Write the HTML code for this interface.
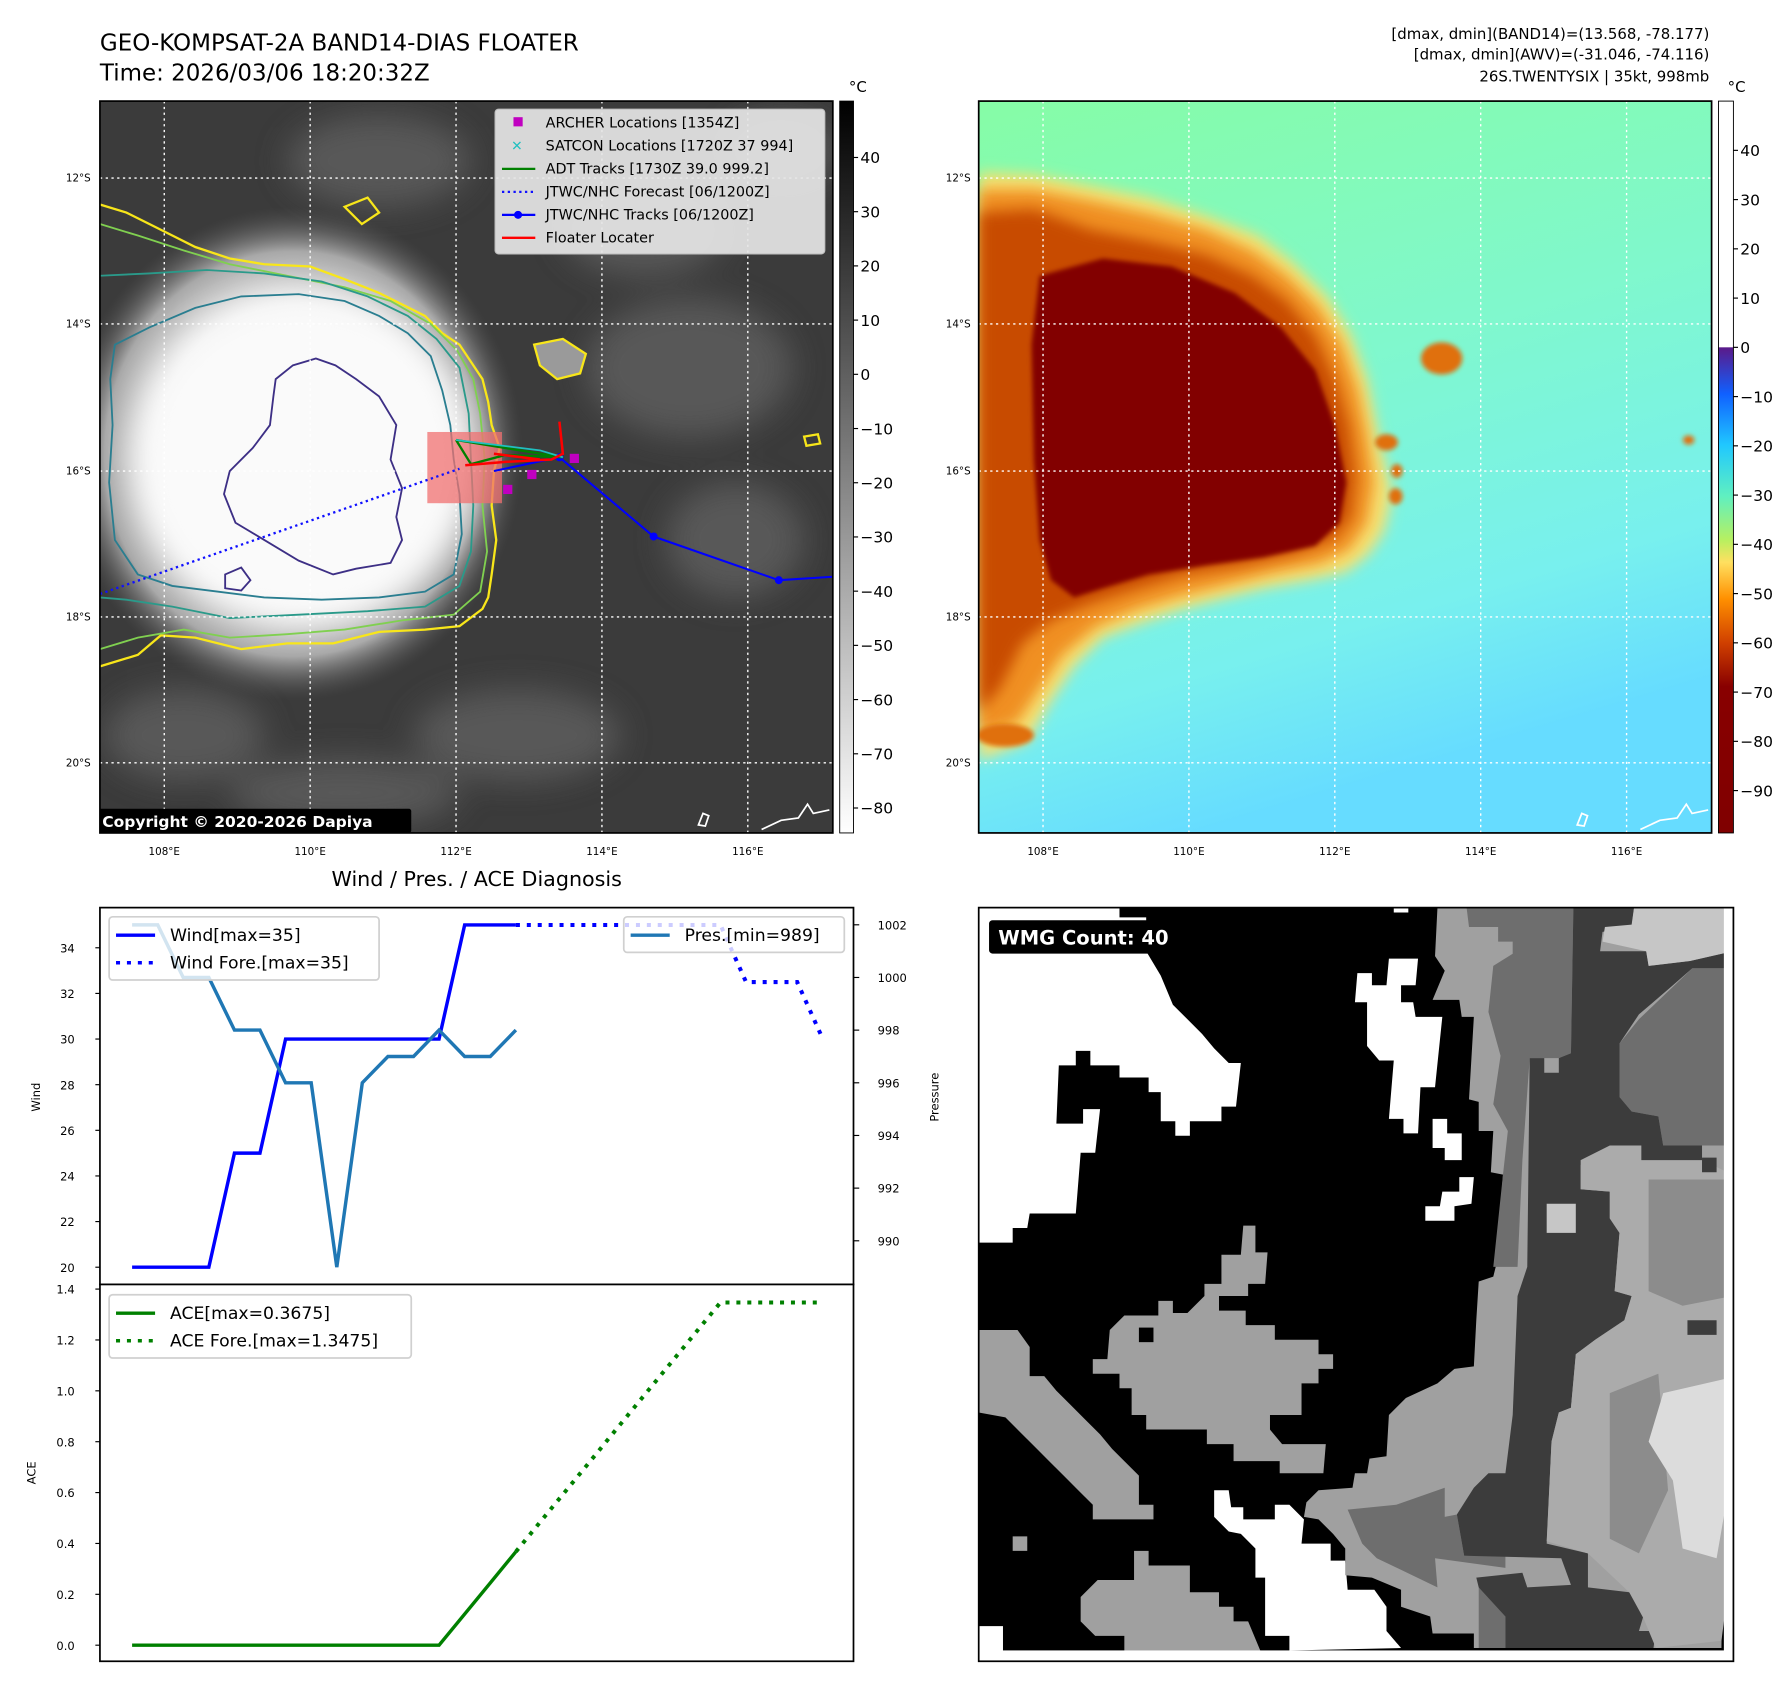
<!DOCTYPE html>
<html><head><meta charset="utf-8"><style>
html,body{margin:0;padding:0;background:#fff}
svg{display:block;font-family:"DejaVu Sans","Liberation Sans",sans-serif}
</style></head><body>
<svg id="root" width="1792" height="1690" viewBox="0 0 1560 1471" preserveAspectRatio="none">
<defs>
<filter id="b2"><feGaussianBlur stdDeviation="2"/></filter>
<filter id="b6"><feGaussianBlur stdDeviation="6"/></filter>
<filter id="b14"><feGaussianBlur stdDeviation="14"/></filter>
<clipPath id="cl"><rect x="87" y="88" width="638" height="637"/></clipPath>
<clipPath id="cr"><rect x="852" y="88" width="638" height="637"/></clipPath>
<radialGradient id="cloudg" cx="0.5" cy="0.5" r="0.5">
<stop offset="0" stop-color="#fff"/><stop offset="0.6" stop-color="#eeeeee"/><stop offset="0.82" stop-color="#a8a8a8"/><stop offset="1" stop-color="#555" stop-opacity="0"/></radialGradient>
<linearGradient id="bgR" x1="0" y1="0" x2="0.3" y2="1">
<stop offset="0" stop-color="#86fca6"/><stop offset="0.45" stop-color="#80f8cc"/><stop offset="0.8" stop-color="#78f0ee"/><stop offset="1" stop-color="#66dcff"/></linearGradient>
<linearGradient id="cbGray" x1="0" y1="0" x2="0" y2="1">
<stop offset="0" stop-color="#000"/><stop offset="1" stop-color="#fff"/></linearGradient>
<linearGradient id="cbJet" x1="0" y1="0" x2="0" y2="1">
<stop offset="0" stop-color="#fff"/><stop offset="0.336" stop-color="#fff"/>
<stop offset="0.337" stop-color="#5a1a8a"/><stop offset="0.40" stop-color="#1060ff"/>
<stop offset="0.47" stop-color="#20c8ff"/><stop offset="0.54" stop-color="#60f0c0"/>
<stop offset="0.60" stop-color="#b8f060"/><stop offset="0.63" stop-color="#ffe060"/>
<stop offset="0.68" stop-color="#ff9000"/><stop offset="0.74" stop-color="#d04000"/>
<stop offset="0.80" stop-color="#880000"/><stop offset="1" stop-color="#800000"/></linearGradient>
</defs>

<!-- Titles -->
<text x="87" y="44" font-size="20">GEO-KOMPSAT-2A BAND14-DIAS FLOATER</text>
<text x="87" y="70" font-size="20">Time: 2026/03/06 18:20:32Z</text>
<g font-size="13" text-anchor="end">
<text x="1488" y="34">[dmax, dmin](BAND14)=(13.568, -78.177)</text>
<text x="1488" y="52">[dmax, dmin](AWV)=(-31.046, -74.116)</text>
<text x="1488" y="71">26S.TWENTYSIX | 35kt, 998mb</text>
</g>

<!-- LEFT MAP -->
<g clip-path="url(#cl)">
<rect x="87" y="88" width="638" height="637" fill="#3b3b3b"/>
<g filter="url(#b14)" fill="#5c5c5c" opacity="0.9">
<ellipse cx="600" cy="320" rx="90" ry="60"/><ellipse cx="560" cy="200" rx="70" ry="40"/>
<ellipse cx="450" cy="640" rx="90" ry="40"/><ellipse cx="640" cy="470" rx="60" ry="50"/>
<ellipse cx="300" cy="690" rx="100" ry="30"/><ellipse cx="160" cy="640" rx="70" ry="40"/>
<ellipse cx="680" cy="130" rx="50" ry="30"/><ellipse cx="330" cy="140" rx="80" ry="40"/>
</g>
<ellipse cx="255" cy="395" rx="200" ry="215" fill="url(#cloudg)"/>
<ellipse cx="265" cy="400" rx="145" ry="140" fill="#fafafa" filter="url(#b14)"/>
<path d="M87,178 L110,185 130,195 150,205 170,215 200,225 230,230 270,232 300,243 330,255 350,265 370,275 385,290 400,300 410,315 420,330 425,350 428,370 435,390 430,410 428,440 432,470 428,500 425,520 420,530 400,545 370,548 330,550 290,560 250,560 210,565 170,555 140,553 120,570 87,580" fill="none" stroke="#f8e61a" stroke-width="2"/>
<path d="M87,195 L120,205 160,218 200,230 250,240 300,250 340,262 375,282 398,305 412,330 418,360 422,400 420,440 424,480 418,515 395,535 350,540 300,548 250,552 200,555 160,548 120,555 87,565" fill="none" stroke="#80d050" stroke-width="1.6"/>
<path d="M87,240 L130,238 180,235 230,238 280,245 320,258 355,275 380,295 400,320 408,360 410,400 412,440 410,480 400,510 370,528 320,532 260,535 200,538 150,528 110,522 87,520" fill="none" stroke="#2a9a8a" stroke-width="1.6"/>
<path d="M100,300 L130,285 170,268 210,258 260,256 300,262 330,275 355,290 375,310 385,340 392,370 395,400 400,430 402,465 395,500 370,515 330,520 280,522 230,520 190,515 150,510 120,500 100,470 95,420 98,370 96,330 Z" fill="none" stroke="#2a7e90" stroke-width="1.6"/>
<path d="M240,330 L255,318 275,312 292,318 310,330 330,345 345,370 340,400 350,425 345,450 350,470 340,490 310,495 290,500 260,488 230,470 205,455 195,430 200,410 220,390 235,370 238,345 Z" fill="none" stroke="#3d2f85" stroke-width="1.6"/>
<path d="M196,500 L210,494 218,505 210,514 196,512 Z" fill="none" stroke="#3d2f85" stroke-width="1.6"/>
<path d="M465,300 L490,295 510,308 505,325 485,330 470,318 Z" fill="#9a9a9a" stroke="#f8e61a" stroke-width="2"/>
<path d="M300,180 L320,172 330,185 315,195 Z M700,380 L712,378 714,386 702,388 Z" fill="none" stroke="#f8e61a" stroke-width="2"/>
<g stroke="#fff" stroke-width="1.2" stroke-dasharray="2,3" fill="none">
<line x1="143" y1="88" x2="143" y2="725"/><line x1="270" y1="88" x2="270" y2="725"/><line x1="397" y1="88" x2="397" y2="725"/><line x1="524" y1="88" x2="524" y2="725"/><line x1="651" y1="88" x2="651" y2="725"/>
<line x1="87" y1="155" x2="725" y2="155"/><line x1="87" y1="282" x2="725" y2="282"/><line x1="87" y1="410" x2="725" y2="410"/><line x1="87" y1="537" x2="725" y2="537"/><line x1="87" y1="664" x2="725" y2="664"/>
</g>
<path d="M608,718 L612,708 617,710 614,719 Z M663,722 L680,714 695,712 703,700 708,708 722,705" fill="none" stroke="#fff" stroke-width="1.5"/>
<rect x="372" y="376" width="65" height="62" fill="#f07070" opacity="0.75"/>
<path d="M87,517 L400,408" stroke="#1010ff" stroke-width="2" stroke-dasharray="2,3" fill="none"/>
<path d="M430,410 L487,398 L569,467 L678,505 L725,502" stroke="#0000ff" stroke-width="1.8" fill="none"/>
<g fill="#0000ff"><circle cx="487" cy="398" r="3.5"/><circle cx="569" cy="467" r="3.5"/><circle cx="678" cy="505" r="3.5"/></g>
<path d="M397,383 L490,398 L440,396 L410,404 L397,383" stroke="#008000" stroke-width="2" fill="none"/>
<path d="M397,383 L470,392 L490,398" stroke="#20c0c0" stroke-width="1.5" fill="none"/>
<path d="M405,405 L440,402 L480,400 L490,395 L487,367 M430,395 L470,400" stroke="#ff0000" stroke-width="2.2" fill="none"/>
<g fill="#c000c0"><rect x="438" y="422" width="8" height="8"/><rect x="459" y="409" width="8" height="8"/><rect x="496" y="395" width="8" height="8"/></g>
<rect x="85" y="704" width="273" height="21" fill="#000" rx="2"/>
<text x="89" y="720" font-size="13.5" font-weight="bold" fill="#fff">Copyright © 2020-2026 Dapiya</text>
</g>
<rect x="87" y="88" width="638" height="637" fill="none" stroke="#000" stroke-width="1.5"/>
<g>
<rect x="431" y="95" width="287" height="126" rx="3" fill="#e6e6e6" opacity="0.92" stroke="#ccc"/>
<rect x="447" y="102" width="8" height="8" fill="#c000c0"/>
<text x="445" y="131" font-size="12" fill="#20c0c0" font-weight="bold">✕</text>
<line x1="437" y1="147" x2="466" y2="147" stroke="#008000" stroke-width="2"/>
<line x1="437" y1="167" x2="466" y2="167" stroke="#1010ff" stroke-width="2" stroke-dasharray="2,3"/>
<line x1="437" y1="187" x2="466" y2="187" stroke="#0000ff" stroke-width="2"/><circle cx="451" cy="187" r="3.5" fill="#0000ff"/>
<line x1="437" y1="207" x2="466" y2="207" stroke="#ff0000" stroke-width="2"/>
<g font-size="12.5">
<text x="475" y="111">ARCHER Locations [1354Z]</text>
<text x="475" y="131">SATCON Locations [1720Z 37 994]</text>
<text x="475" y="151">ADT Tracks [1730Z 39.0 999.2]</text>
<text x="475" y="171">JTWC/NHC Forecast [06/1200Z]</text>
<text x="475" y="191">JTWC/NHC Tracks [06/1200Z]</text>
<text x="475" y="211">Floater Locater</text>
</g></g>
<g font-size="9">
<g text-anchor="end"><text x="79" y="158">12°S</text><text x="79" y="285">14°S</text><text x="79" y="413">16°S</text><text x="79" y="540">18°S</text><text x="79" y="667">20°S</text></g>
<g text-anchor="middle"><text x="143" y="744">108°E</text><text x="270" y="744">110°E</text><text x="397" y="744">112°E</text><text x="524" y="744">114°E</text><text x="651" y="744">116°E</text></g>
</g>
<g>
<rect x="731" y="88" width="12" height="637" fill="url(#cbGray)" stroke="#000" stroke-width="0.8"/>
<text x="739" y="80" font-size="13">°C</text>
<g font-size="13.5" id="cb1"></g>
</g>

<!-- RIGHT MAP -->
<g clip-path="url(#cr)">
<rect x="852" y="88" width="638" height="637" fill="url(#bgR)"/>
<path d="M852,150 L900,152 950,162 1000,172 1050,188 1095,205 1125,228 1155,258 1175,290 1190,330 1198,370 1205,400 1212,430 1205,462 1192,482 1172,498 1140,505 1100,512 1060,522 1030,530 1000,540 960,555 935,580 915,610 895,645 852,662 Z" fill="#f8e070" filter="url(#b6)"/>
<path d="M852,165 L900,165 950,175 1000,186 1050,200 1090,218 1120,240 1148,268 1168,300 1182,340 1190,380 1196,420 1190,455 1175,478 1150,490 1110,498 1070,508 1030,518 990,530 955,545 925,570 905,600 885,630 852,640 Z" fill="#f09020" filter="url(#b6)"/>
<path d="M852,185 L900,182 950,200 1000,210 1050,222 1090,240 1120,262 1145,292 1162,330 1174,370 1180,415 1176,450 1160,470 1125,482 1080,492 1030,500 990,512 950,525 915,540 890,560 870,600 852,620 Z" fill="#c84c00" filter="url(#b6)"/>
<path d="M905,240 L960,225 1020,232 1075,255 1115,285 1145,322 1162,370 1172,420 1166,455 1145,475 1100,485 1050,492 1000,500 960,512 935,520 915,505 905,470 900,400 898,300 Z" fill="#820000" filter="url(#b2)"/>
<g filter="url(#b2)" fill="#e07010">
<ellipse cx="1255" cy="312" rx="18" ry="14"/><ellipse cx="1207" cy="385" rx="10" ry="7"/><ellipse cx="1216" cy="410" rx="5" ry="6"/><ellipse cx="1215" cy="432" rx="6" ry="7"/><ellipse cx="1470" cy="383" rx="5" ry="4"/>
<ellipse cx="875" cy="640" rx="25" ry="10"/>
</g>
<g stroke="#fff" stroke-width="1.2" stroke-dasharray="2,3" fill="none">
<line x1="908" y1="88" x2="908" y2="725"/><line x1="1035" y1="88" x2="1035" y2="725"/><line x1="1162" y1="88" x2="1162" y2="725"/><line x1="1289" y1="88" x2="1289" y2="725"/><line x1="1416" y1="88" x2="1416" y2="725"/>
<line x1="852" y1="155" x2="1490" y2="155"/><line x1="852" y1="282" x2="1490" y2="282"/><line x1="852" y1="410" x2="1490" y2="410"/><line x1="852" y1="537" x2="1490" y2="537"/><line x1="852" y1="664" x2="1490" y2="664"/>
</g>
<path d="M1373,718 L1377,708 1382,710 1379,719 Z M1428,722 L1445,714 1460,712 1468,700 1473,708 1487,705" fill="none" stroke="#fff" stroke-width="1.5"/>
</g>
<rect x="852" y="88" width="638" height="637" fill="none" stroke="#000" stroke-width="1.5"/>
<g font-size="9">
<g text-anchor="end"><text x="845" y="158">12°S</text><text x="845" y="285">14°S</text><text x="845" y="413">16°S</text><text x="845" y="540">18°S</text><text x="845" y="667">20°S</text></g>
<g text-anchor="middle"><text x="908" y="744">108°E</text><text x="1035" y="744">110°E</text><text x="1162" y="744">112°E</text><text x="1289" y="744">114°E</text><text x="1416" y="744">116°E</text></g>
</g>
<g>
<rect x="1496" y="88" width="13" height="637" fill="url(#cbJet)" stroke="#000" stroke-width="0.8"/>
<text x="1504" y="80" font-size="13">°C</text>
<g font-size="13.5" id="cb2"></g>
</g>

<!-- DIAGNOSIS CHART -->
<text x="415" y="771" font-size="18" text-anchor="middle">Wind / Pres. / ACE Diagnosis</text>
<g id="chart"></g>

<!-- WMG PANEL -->
<g>
<rect x="852" y="790" width="657" height="656" fill="#fff"/>
<g transform="translate(852,790) scale(0.4226)">
<rect x="0" y="0" width="1553" height="1530" fill="#000"/>
<path fill="#fff" d="M0,0 L290,0 290,20 345,20 345,90 375,140 400,200 430,230 460,260 485,290 515,320 540,320 530,410 500,410 500,440 435,440 435,470 405,470 405,440 375,440 375,380 350,380 350,350 290,350 290,325 230,325 230,295 200,295 200,325 165,325 160,445 215,445 215,415 250,415 240,505 210,505 200,630 105,630 100,660 70,660 70,690 0,690 Z"/>
<path fill="#fff" d="M780,135 L810,135 810,160 840,160 845,105 905,105 900,160 870,160 870,195 895,195 900,225 955,225 940,370 910,370 905,465 875,465 875,435 845,435 855,315 825,315 800,285 800,195 775,195 Z M935,435 L965,435 965,465 995,465 995,520 960,520 960,495 935,495 Z M990,555 L1020,555 1015,610 980,615 980,645 920,645 920,615 950,615 955,585 990,585 Z M855,0 L885,0 885,10 855,10 Z"/>
<path fill="#fff" d="M485,1200 L515,1200 520,1235 545,1235 545,1260 610,1260 610,1230 640,1230 670,1260 665,1310 725,1310 725,1345 755,1345 760,1405 815,1405 840,1440 840,1490 870,1525 640,1530 640,1500 590,1500 590,1380 570,1380 570,1320 540,1290 515,1285 485,1255 Z M0,1480 L50,1480 50,1530 0,1530 Z"/>
<g fill="#a0a0a0">
<path d="M0,870 L80,870 105,905 105,965 135,965 160,995 190,1025 220,1055 250,1085 275,1115 300,1140 330,1170 330,1230 360,1230 360,1260 235,1260 235,1230 205,1200 175,1170 145,1140 115,1110 85,1080 55,1050 0,1040 Z"/>
<path d="M270,870 L300,840 370,840 370,810 400,810 400,835 430,835 465,800 465,775 500,775 500,715 540,715 545,655 570,655 570,710 595,710 590,775 555,775 555,800 495,800 495,830 550,830 550,860 610,860 610,890 700,890 700,920 730,920 730,950 700,950 700,980 665,980 665,1045 600,1045 600,1075 625,1105 715,1105 710,1165 620,1165 620,1140 525,1140 525,1105 470,1105 470,1075 345,1075 345,1045 315,1045 315,990 290,990 290,960 235,960 235,930 265,930 Z"/>
<path d="M210,1420 L245,1385 320,1385 320,1325 350,1325 350,1355 435,1355 435,1410 495,1410 495,1440 525,1440 525,1470 555,1470 580,1530 300,1535 300,1500 240,1500 210,1470 Z M70,1295 L100,1295 100,1325 70,1325 Z"/>
<path d="M945,0 L940,100 960,130 935,190 990,190 995,225 1020,225 1010,395 1030,400 1030,460 1060,460 1055,545 1080,550 1065,740 1060,760 1030,770 1025,850 1020,945 980,950 945,980 880,1010 845,1045 840,1130 805,1135 800,1165 775,1165 770,1195 700,1200 675,1225 670,1255 700,1260 730,1290 755,1320 755,1375 810,1380 870,1405 870,1440 930,1460 935,1495 1020,1495 1020,1525 1530,1525 1553,0 Z"/>
</g>
<rect x="330" y="865" width="30" height="30" fill="#000"/>
<path fill="#6e6e6e" d="M1005,0 L1225,0 1220,300 1195,310 1135,310 1120,520 1110,740 1060,740 1080,550 1090,460 1060,405 1075,305 1050,215 1060,120 1100,95 1100,70 1070,70 1070,40 1010,40 Z M760,1240 L860,1230 960,1195 960,1255 985,1250 1000,1335 1085,1335 1085,1360 940,1340 945,1400 820,1340 790,1310 Z M1360,230 L1470,125 1553,125 1553,490 1410,490 1400,430 1345,420 1320,390 1320,280 Z M1030,1400 L1085,1400 1085,1525 1030,1525 1030,1460 Z"/>
<path fill="#3c3c3c" d="M1225,0 L1350,0 1345,40 1285,50 1280,90 1375,90 1380,120 1465,110 1553,90 1553,125 1470,125 1430,160 1395,190 1360,220 1320,280 1320,390 1345,420 1400,430 1410,490 1490,490 1490,540 1300,520 1240,530 1240,580 1300,585 1300,640 1320,670 1310,790 1345,800 1330,850 1270,890 1230,920 1220,1030 1195,1040 1180,1100 1170,1310 1255,1330 1255,1400 1340,1410 1375,1440 1360,1490 1395,1490 1390,1525 1085,1525 1085,1460 1030,1400 1025,1380 1120,1370 1130,1400 1220,1395 1200,1340 1000,1335 985,1250 1020,1195 1050,1165 1085,1165 1100,1045 1110,800 1130,740 1135,310 1165,310 1165,340 1195,340 1195,310 1220,300 Z"/>
<path fill="#ababab" d="M1240,520 L1300,490 1365,490 1365,520 1490,520 1553,550 1553,1330 1530,1510 1395,1525 1370,1465 1340,1410 1255,1330 1170,1305 1180,1100 1195,1040 1220,1030 1230,920 1270,890 1330,850 1345,800 1310,790 1320,670 1300,640 1300,585 1240,580 Z"/>
<path fill="#8c8c8c" d="M1380,560 L1553,560 1553,800 1450,820 1380,790 Z M1300,1000 L1400,960 1420,1200 1360,1330 1300,1300 Z"/>
<path fill="#dcdcdc" d="M1410,1000 L1540,970 1553,1150 1520,1340 1450,1320 1430,1180 1380,1100 Z"/>
<path fill="#c6c6c6" d="M1350,0 L1553,0 1553,90 1465,110 1380,120 1375,90 1285,70 1290,40 1345,35 Z M1170,610 L1230,610 1230,670 1170,670 Z"/>
<path fill="#3c3c3c" d="M1460,850 L1520,850 1520,880 1460,880 Z M1490,515 L1520,515 1520,545 1490,545 Z"/>
<rect x="0" y="1530" width="1553" height="30" fill="#fff"/>
<rect x="1535" y="0" width="30" height="1553" fill="#fff"/>
</g>
<rect x="852" y="790" width="657" height="656" fill="none" stroke="#000" stroke-width="1.5"/>
<rect x="861" y="801" width="171" height="29" rx="3" fill="#000"/>
<text x="869" y="822" font-size="17" font-weight="bold" fill="#fff">WMG Count: 40</text>
</g>
</svg>
<script>
const NS='http://www.w3.org/2000/svg';
// ---- chart data ----
const windObs=[20,20,20,20,25,25,30,30,30,30,30,30,30,35,35,35];
const windFore=[35,35,35,35,35,35,35,35,35,32.5,32.5,32.5,30];
const presObs=[1002,1002,1000,1000,998,998,996,996,989,996,997,997,998,997,997,998];
const aceObs=[0,0,0,0,0,0,0,0,0,0,0,0,0,0.1225,0.245,0.3675];
const aceFore=[0.3675,0.49,0.6125,0.735,0.8575,0.98,1.1025,1.225,1.3475,1.3475,1.3475,1.3475,1.3475];
const windTicks=[20,22,24,26,28,30,32,34];
const presTicks=[990,992,994,996,998,1000,1002];
const aceTicks=[0.0,0.2,0.4,0.6,0.8,1.0,1.2,1.4];
const gray1Ticks=[40,30,20,10,0,-10,-20,-30,-40,-50,-60,-70,-80];
const jetTicks=[40,30,20,10,0,-10,-20,-30,-40,-50,-60,-70,-80,-90];
const foreStart=15;

const xIdx=i=>115+i*22.27;
const yWind=v=>1103-(v-20)*19.86;
const yPres=p=>1080-(p-990)*22.92;
const yAce=a=>1432-a*221.4;
const yGray=v=>88+(50.4-v)/135*637;
const yJet=v=>88+(50-v)/148.6*637;

function el(tag,attrs,parent){const e=document.createElementNS(NS,tag);for(const k in attrs)e.setAttribute(k,attrs[k]);parent.appendChild(e);return e;}
function txt(s,attrs,parent){const t=el('text',attrs,parent);t.textContent=s;return t;}
function pts(arr,off,fy){return arr.map((v,i)=>xIdx(i+off).toFixed(1)+','+fy(v).toFixed(1)).join(' ');}
const fmtMinus=v=>v<0?'\u2212'+Math.abs(v):String(v);

const cb1=document.getElementById('cb1');
gray1Ticks.forEach(v=>{const y=yGray(v);
 el('line',{x1:743,y1:y,x2:747,y2:y,stroke:'#000'},cb1);
 const t=txt(fmtMinus(v),{x:749,y:y+5},cb1);
 
 
});
const cb2=document.getElementById('cb2');
jetTicks.forEach(v=>{const y=yJet(v);
 el('line',{x1:1509,y1:y,x2:1513,y2:y,stroke:'#000'},cb2);
 const t=txt(fmtMinus(v),{x:1515,y:y+5},cb2);
 
 
});

const ch=document.getElementById('chart');
el('rect',{x:87,y:790,width:656,height:328,fill:'#fff',stroke:'#000','stroke-width':1.5},ch);
el('rect',{x:87,y:1118,width:656,height:328,fill:'#fff',stroke:'#000','stroke-width':1.5},ch);
windTicks.forEach(v=>{const y=yWind(v);el('line',{x1:83,y1:y,x2:87,y2:y,stroke:'#000'},ch);
 const t=txt(String(v),{x:65,y:y+4,'font-size':10,'text-anchor':'end'},ch);
 
 });
presTicks.forEach(v=>{const y=yPres(v);el('line',{x1:743,y1:y,x2:748,y2:y,stroke:'#000'},ch);
 const t=txt(String(v),{x:764,y:y+4,'font-size':10},ch);
 
 });
aceTicks.forEach(v=>{const y=yAce(v);el('line',{x1:83,y1:y,x2:87,y2:y,stroke:'#000'},ch);
 const t=txt(v.toFixed(1),{x:65,y:y+4,'font-size':10,'text-anchor':'end'},ch);
 
 });
let t;
t=txt('Wind',{x:0,y:0,'font-size':10,'text-anchor':'middle',transform:'translate(35,955) rotate(-90)'},ch);

t=txt('Pressure',{x:0,y:0,'font-size':10,'text-anchor':'middle',transform:'translate(817,955) rotate(-90)'},ch);

t=txt('ACE',{x:0,y:0,'font-size':10,'text-anchor':'middle',transform:'translate(31,1282) rotate(-90)'},ch);


let p;
p=el('polyline',{points:pts(windObs,0,yWind),fill:'none',stroke:'#0000ff','stroke-width':3},ch);

p=el('polyline',{points:pts(windFore,foreStart,yWind),fill:'none',stroke:'#0000ff','stroke-width':3.5,'stroke-dasharray':'3.5,6'},ch);

p=el('polyline',{points:pts(presObs,0,yPres),fill:'none',stroke:'#1f77b4','stroke-width':3},ch);

p=el('polyline',{points:pts(aceObs,0,yAce),fill:'none',stroke:'#008000','stroke-width':3},ch);

p=el('polyline',{points:pts(aceFore,foreStart,yAce),fill:'none',stroke:'#008000','stroke-width':3.5,'stroke-dasharray':'3.5,6'},ch);


function legend(x,y,w,h,items,name){const g=el('g',{},ch);
 
 el('rect',{x:x,y:y,width:w,height:h,rx:3,fill:'#fff','fill-opacity':0.8,stroke:'#d0d0d0','stroke-width':1.5},g);
 items.forEach((it,i)=>{const yy=y+16+i*24;
  const a={x1:x+6,y1:yy,x2:x+40,y2:yy,stroke:it.c,'stroke-width':3};if(it.d)a['stroke-dasharray']='3.5,6';
  el('line',a,g);txt(it.t,{x:x+it.tx,y:yy+5,'font-size':15},g);});}
legend(95,798,235,55,[{c:'#0000ff',t:'Wind[max=35]',tx:53},{c:'#0000ff',d:1,t:'Wind Fore.[max=35]',tx:53}],'wind-legend');
legend(543,798,192,31,[{c:'#1f77b4',t:'Pres.[min=989]',tx:53}],'pressure-legend');
legend(95,1127,263,55,[{c:'#008000',t:'ACE[max=0.3675]',tx:53},{c:'#008000',d:1,t:'ACE Fore.[max=1.3475]',tx:53}],'ace-legend');
</script>
</body></html>
